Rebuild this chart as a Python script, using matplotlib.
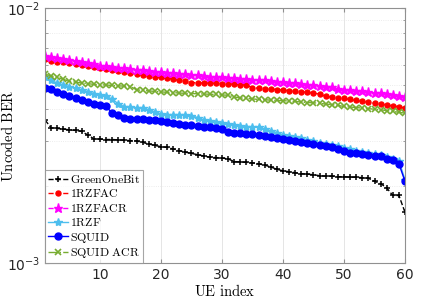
import numpy as np
import matplotlib
matplotlib.use("Agg")
import matplotlib.pyplot as plt
from matplotlib.ticker import LogLocator, NullFormatter

plt.rcParams['mathtext.fontset'] = 'cm'
plt.rcParams['font.family'] = ['DejaVu Sans']

ue_index = np.arange(1, 61)

green_one_bit = [3.64, 3.39, 3.37, 3.35, 3.33, 3.31, 3.28, 3.18, 3.07, 3.06,
                 3.05, 3.05, 3.04, 3.03, 3.02, 3.01, 2.97, 2.93, 2.89, 2.86,
                 2.84, 2.80, 2.76, 2.72, 2.69, 2.66, 2.63, 2.60, 2.59, 2.58,
                 2.56, 2.50, 2.49, 2.48, 2.47, 2.45, 2.42, 2.38, 2.33, 2.30,
                 2.28, 2.26, 2.24, 2.23, 2.22, 2.20, 2.19, 2.19, 2.18, 2.18,
                 2.17, 2.17, 2.16, 2.15, 2.09, 2.05, 1.97, 1.84, 1.84, 1.58]

rzfac = [6.29, 6.20, 6.15, 6.12, 6.09, 6.05, 6.00, 5.95, 5.88, 5.82,
         5.78, 5.72, 5.66, 5.62, 5.56, 5.50, 5.46, 5.42, 5.38, 5.34,
         5.30, 5.26, 5.20, 5.15, 5.10, 5.09, 5.08, 5.07, 5.06, 5.05,
         5.04, 5.02, 5.00, 4.99, 4.87, 4.85, 4.83, 4.81, 4.79, 4.77,
         4.74, 4.72, 4.70, 4.67, 4.63, 4.60, 4.50, 4.47, 4.44, 4.42,
         4.38, 4.34, 4.30, 4.27, 4.23, 4.20, 4.17, 4.13, 4.10, 4.05]

rzfacr = [6.49, 6.40, 6.35, 6.30, 6.26, 6.20, 6.15, 6.09, 6.02, 5.95,
          5.92, 5.88, 5.82, 5.80, 5.77, 5.73, 5.69, 5.66, 5.62, 5.60,
          5.56, 5.54, 5.52, 5.50, 5.46, 5.44, 5.42, 5.38, 5.36, 5.34,
          5.32, 5.30, 5.28, 5.26, 5.24, 5.22, 5.20, 5.17, 5.14, 5.11,
          5.10, 5.07, 5.04, 5.01, 4.99, 4.96, 4.92, 4.88, 4.83, 4.77,
          4.75, 4.73, 4.71, 4.68, 4.65, 4.63, 4.60, 4.57, 4.53, 4.49]

rzf = [5.35, 5.20, 5.08, 4.98, 4.92, 4.85, 4.77, 4.70, 4.62, 4.56,
       4.50, 4.40, 4.21, 4.10, 4.08, 4.07, 4.06, 3.98, 3.91, 3.84,
       3.82, 3.81, 3.80, 3.79, 3.78, 3.72, 3.64, 3.60, 3.57, 3.53,
       3.50, 3.48, 3.45, 3.43, 3.42, 3.41, 3.35, 3.30, 3.24, 3.18,
       3.15, 3.12, 3.08, 3.04, 3.00, 2.96, 2.93, 2.90, 2.87, 2.83,
       2.79, 2.76, 2.73, 2.70, 2.67, 2.64, 2.60, 2.56, 2.52, 2.12]

squid = [4.87, 4.80, 4.70, 4.62, 4.50, 4.42, 4.36, 4.28, 4.22, 4.17,
         4.13, 3.86, 3.80, 3.70, 3.68, 3.67, 3.66, 3.65, 3.63, 3.62,
         3.58, 3.54, 3.51, 3.49, 3.47, 3.45, 3.43, 3.41, 3.38, 3.35,
         3.26, 3.24, 3.23, 3.21, 3.20, 3.18, 3.15, 3.12, 3.09, 3.06,
         3.04, 3.02, 2.99, 2.96, 2.93, 2.91, 2.88, 2.85, 2.80, 2.76,
         2.70, 2.69, 2.67, 2.65, 2.63, 2.62, 2.56, 2.54, 2.45, 2.09]

squid_acr = [5.50, 5.42, 5.35, 5.25, 5.16, 5.12, 5.08, 5.05, 5.02, 5.00,
             4.99, 4.97, 4.95, 4.94, 4.92, 4.78, 4.75, 4.73, 4.71, 4.69,
             4.67, 4.66, 4.64, 4.63, 4.62, 4.61, 4.60, 4.59, 4.58, 4.56,
             4.55, 4.48, 4.44, 4.42, 4.40, 4.38, 4.37, 4.35, 4.34, 4.33,
             4.32, 4.30, 4.28, 4.26, 4.25, 4.23, 4.20, 4.18, 4.15, 4.11,
             4.09, 4.07, 4.05, 4.03, 4.01, 3.99, 3.96, 3.93, 3.90, 3.87]

# values above are read in units of 1e-3
series = [
    ("GreenOneBit", green_one_bit, dict(color='k', ls='--', marker='+', ms=5, mew=1.1)),
    ("1RZFAC", rzfac, dict(color='#FF0000', ls='--', marker='o', ms=3.6, mfc='#FF0000')),
    ("1RZFACR", rzfacr, dict(color='#FF00FF', ls='--', marker='*', ms=6.5, mfc='#FF00FF')),
    ("1RZF", rzf, dict(color='#4DBEEE', ls='-', marker='*', ms=6, mfc='#4DBEEE')),
    ("SQUID", squid, dict(color='#0000FF', ls='-', marker='o', ms=5, mfc='#0000FF')),
    ("SQUID ACR", squid_acr, dict(color='#77AC30', ls='-.', marker='x', ms=3.8, mew=1.2)),
]

fig = plt.figure(figsize=(4.31, 2.99), dpi=100)
ax = fig.add_axes([0.1044, 0.1204, 0.8353, 0.8528])

for name, vals, style in series:
    ax.semilogy(ue_index, np.array(vals) * 1e-3, lw=1.0,
                label=r'$\mathrm{%s}$' % name.replace(' ', r'\ '), **style)

ax.set_xlim(1, 60)
ax.set_ylim(1e-3, 1e-2)
ax.set_xticks([10, 20, 30, 40, 50, 60])
ax.yaxis.set_minor_locator(LogLocator(base=10, subs=np.arange(2, 10)))
ax.yaxis.set_minor_formatter(NullFormatter())

ax.grid(True, which='major', axis='x', color='#e0e0e0', lw=0.6)
ax.grid(True, which='minor', axis='y', color='#e6e6e6', lw=0.6, ls=':')
ax.set_axisbelow(True)
for sp in ax.spines.values():
    sp.set_color('#909090')
    sp.set_linewidth(0.8)
ax.tick_params(which='both', direction='in', colors='#909090', labelcolor='#262626',
               labelsize=10, top=True, right=True)
ax.tick_params(which='major', length=3)
ax.tick_params(which='minor', length=1.8)

ax.set_xlabel(r'$\mathrm{UE\ index}$', fontsize=10.5)
ax.set_ylabel(r'$\mathrm{Uncoded\ BER}$', fontsize=10.5)
ax.xaxis.set_label_coords(0.5, -0.078)
ax.yaxis.set_label_coords(-0.08, 0.5)

leg = ax.legend(loc='lower left', fontsize=8.6, frameon=True, fancybox=False,
                borderpad=0.25, labelspacing=0.12, handlelength=1.65,
                handletextpad=0.2, borderaxespad=0.0)
leg.get_frame().set_edgecolor('#909090')
leg.get_frame().set_linewidth(0.8)

fig.savefig('out.png', dpi=100)
